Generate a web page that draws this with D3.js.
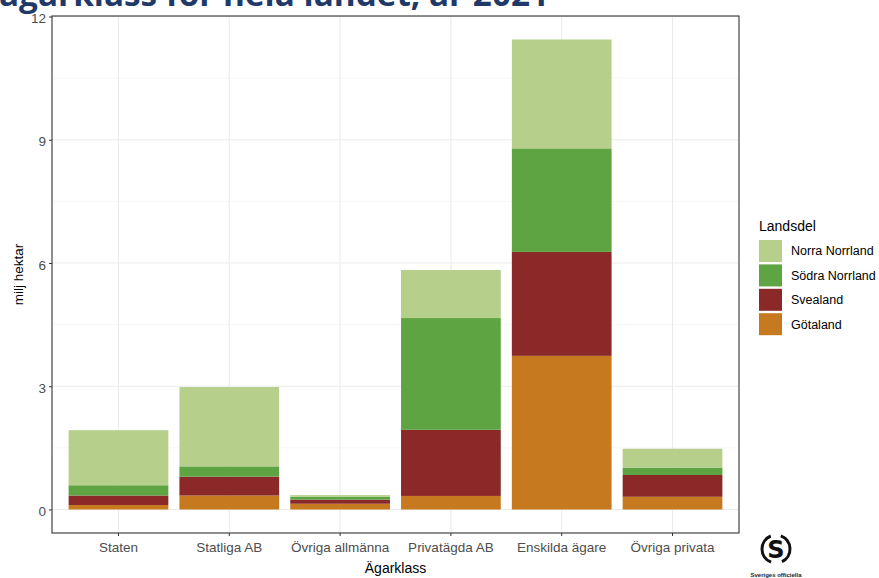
<!DOCTYPE html>
<html><head><meta charset="utf-8">
<script src="https://cdn.jsdelivr.net/npm/d3@7"></script>
<style>body{margin:0;background:#fff;overflow:hidden}svg{display:block}</style>
</head><body>
<svg id="c" width="879" height="578"></svg>
<script>
const categories = ["Staten","Statliga AB","Övriga allmänna","Privatägda AB","Enskilda ägare","Övriga privata"];
const regions = ["Götaland","Svealand","Södra Norrland","Norra Norrland"];
const gotaland = [0.11,0.34,0.14,0.33,3.74,0.31];
const svealand = [0.23,0.46,0.10,1.61,2.53,0.53];
const sodraNorrland = [0.25,0.25,0.07,2.72,2.52,0.18];
const norraNorrland = [1.34,1.93,0.04,1.17,2.65,0.46];
const yTicks = [0,3,6,9,12];
const legendOrder = ["Norra Norrland","Södra Norrland","Svealand","Götaland"];
const colors = {"Norra Norrland":"#b6cf8a","Södra Norrland":"#5ea443","Svealand":"#8b2828","Götaland":"#c77920"};

const rows = categories.map((c,i)=>({cat:c,"Götaland":gotaland[i],"Svealand":svealand[i],"Södra Norrland":sodraNorrland[i],"Norra Norrland":norraNorrland[i]}));
const stack = d3.stack().keys(regions)(rows);
const maxTot = d3.max(rows, r => regions.reduce((s,k)=>s+r[k],0));

const svg = d3.select("#c");
const L=52, R=739, T=16, B=533;
const x = d3.scaleBand().domain(categories).range([L,R]).paddingInner(0.1).paddingOuter(0.15);
const ext = maxTot*0.05;
const y = d3.scaleLinear().domain([-ext, 12.012]).range([B,T]);

// title (cropped at top, as in the reference)
svg.append("text").attr("x",-1).attr("y",6).attr("font-family","Open Sans, sans-serif")
  .attr("font-weight",700).attr("font-size",32).attr("fill","#1f3a68")
  .attr("textLength",550).attr("lengthAdjust","spacingAndGlyphs")
  .text("ägarklass för hela landet, år 2021");

// grid
const g = svg.append("g");
const minor = [1.5,4.5,7.5,10.5];
g.selectAll(".mn").data(minor).join("line").attr("x1",L).attr("x2",R)
  .attr("y1",d=>y(d)).attr("y2",d=>y(d)).attr("stroke","#f2f2f2").attr("stroke-width",0.6);
g.selectAll(".mj").data(yTicks).join("line").attr("x1",L).attr("x2",R)
  .attr("y1",d=>y(d)).attr("y2",d=>y(d)).attr("stroke","#ebebeb").attr("stroke-width",1.1);
g.selectAll(".vx").data(categories).join("line").attr("y1",T).attr("y2",B)
  .attr("x1",d=>x(d)+x.bandwidth()/2).attr("x2",d=>x(d)+x.bandwidth()/2).attr("stroke","#ebebeb").attr("stroke-width",1.1);

// bars
svg.append("g").selectAll("g").data(stack).join("g").attr("fill",d=>colors[d.key])
  .selectAll("rect").data(d=>d).join("rect")
  .attr("x",d=>x(d.data.cat)).attr("width",x.bandwidth())
  .attr("y",d=>y(d[1])).attr("height",d=>y(d[0])-y(d[1]));

// panel border
svg.append("rect").attr("x",L).attr("y",T).attr("width",R-L).attr("height",B-T)
  .attr("fill","none").attr("stroke","#333").attr("stroke-width",1.1);

// axes
const ya = svg.append("g").attr("transform",`translate(${L},0)`)
  .call(d3.axisLeft(y).tickValues(yTicks).tickSize(3).tickPadding(3).tickFormat(d3.format("d")));
const xa = svg.append("g").attr("transform",`translate(0,${B})`)
  .call(d3.axisBottom(x).tickSize(3).tickPadding(6));
[ya,xa].forEach(a=>{
  a.select(".domain").remove();
  a.selectAll(".tick line").attr("stroke","#333");
  a.selectAll(".tick text").attr("fill","#4d4d4d").attr("font-family","Liberation Sans, Arial, sans-serif").attr("font-size",13.5);
});
ya.selectAll(".tick text").attr("dy","0.45em");

svg.append("text").attr("x",(L+R)/2).attr("y",573).attr("text-anchor","middle")
  .attr("font-family","Liberation Sans, Arial, sans-serif").attr("font-size",14).attr("fill","#000").text("Ägarklass");
svg.append("text").attr("transform",`translate(23,${(T+B)/2}) rotate(-90)`).attr("text-anchor","middle")
  .attr("font-family","Liberation Sans, Arial, sans-serif").attr("font-size",13.5).attr("fill","#000").text("milj hektar");

// legend
const lg = svg.append("g");
lg.append("text").attr("x",759).attr("y",231).attr("font-family","Liberation Sans, Arial, sans-serif")
  .attr("font-size",14).text("Landsdel");
legendOrder.forEach((k,i)=>{
  lg.append("rect").attr("x",759).attr("y",240+i*24.4).attr("width",23).attr("height",22).attr("fill",colors[k]);
  lg.append("text").attr("x",791).attr("y",251+i*24.4).attr("dy","0.35em")
    .attr("font-family","Liberation Sans, Arial, sans-serif").attr("font-size",12.5).attr("fill","#000").text(k);
});

// logo
const lo = svg.append("g").attr("transform","translate(776,549)");
const arc = d3.arc().innerRadius(12.5).outerRadius(15.5);
[[0.35,2.7],[3.5,5.9]].forEach(([a0,a1])=>lo.append("path").attr("d",arc({startAngle:a0,endAngle:a1})).attr("fill","#111"));
lo.append("text").attr("x",0).attr("y",0).attr("dy","0.36em").attr("text-anchor","middle")
  .attr("font-family","DejaVu Sans, sans-serif").attr("font-weight",700).attr("font-size",24).attr("fill","#111").text("S");
svg.append("text").attr("x",776).attr("y",577).attr("text-anchor","middle")
  .attr("font-family","Liberation Sans, Arial, sans-serif").attr("font-weight",700).attr("font-size",6).attr("fill","#222").text("Sveriges officiella");
</script>
</body></html>
